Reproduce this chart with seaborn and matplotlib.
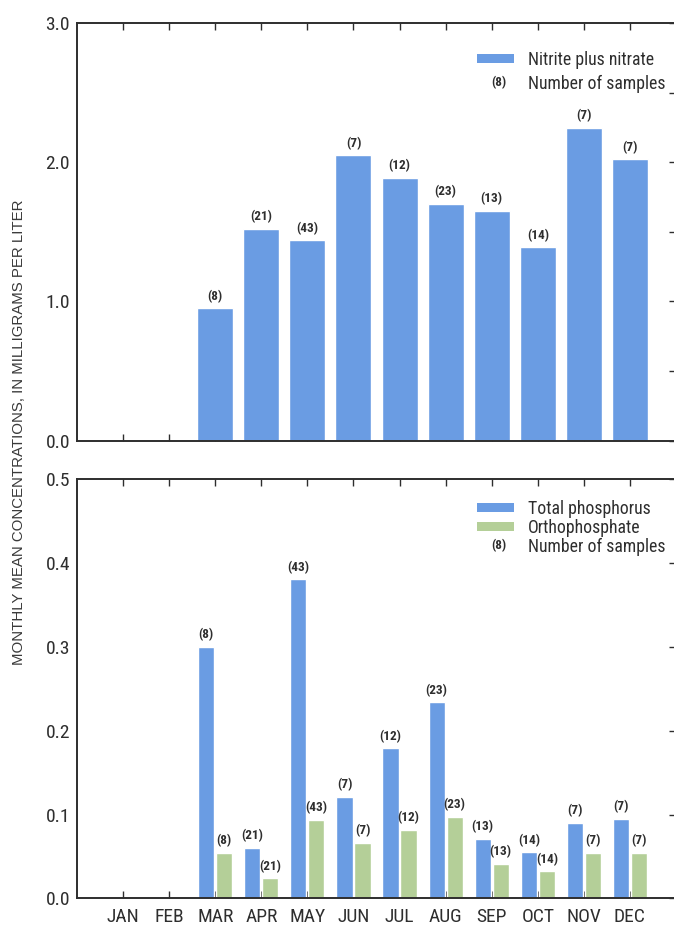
import matplotlib
matplotlib.use("Agg")
import matplotlib.pyplot as plt
import matplotlib.text as mtext
from matplotlib.patches import Patch
from matplotlib.legend_handler import HandlerBase
from matplotlib.ticker import MultipleLocator, FormatStrFormatter
import pandas as pd
import seaborn as sns

# Monthly mean concentrations (mg/L) and number of samples per month
months = ["JAN", "FEB", "MAR", "APR", "MAY", "JUN",
          "JUL", "AUG", "SEP", "OCT", "NOV", "DEC"]
sampled_months = ["MAR", "APR", "MAY", "JUN", "JUL",
                  "AUG", "SEP", "OCT", "NOV", "DEC"]
nitrite_nitrate = [0.95, 1.52, 1.44, 2.05, 1.89, 1.70, 1.65, 1.39, 2.245, 2.02]
total_phosphorus = [0.300, 0.060, 0.381, 0.121, 0.179, 0.234, 0.071, 0.055, 0.090, 0.095]
orthophosphate = [0.054, 0.024, 0.094, 0.066, 0.082, 0.097, 0.041, 0.032, 0.054, 0.054]
n_samples = [8, 21, 43, 7, 12, 23, 13, 14, 7, 7]

BLUE = "#6A9CE3"
GREEN = "#B4CF98"
INK = "#2E2E2E"
NARROW = ["Liberation Sans Narrow", "Roboto Condensed", "Open Sans Condensed",
          "Noto Sans", "DejaVu Sans"]

sns.set_theme(style="ticks")
plt.rcParams["font.family"] = NARROW
plt.rcParams["font.stretch"] = "condensed"
plt.rcParams["text.color"] = INK
plt.rcParams["axes.labelcolor"] = INK
plt.rcParams["xtick.color"] = INK
plt.rcParams["ytick.color"] = INK

fig = plt.figure(figsize=(6.74, 9.30), dpi=100)
W, H = 674.0, 930.0
ax_n = fig.add_axes([77 / W, 1 - 440.7 / H, 599 / W, 417.7 / H])
ax_p = fig.add_axes([77 / W, 1 - 898.3 / H, 599 / W, 418.8 / H])

nit_df = pd.DataFrame({"Month": sampled_months,
                       "Concentration": nitrite_nitrate})
sns.barplot(data=nit_df, x="Month", y="Concentration", order=months,
            color=BLUE, saturation=1, width=0.78, errorbar=None, ax=ax_n)

phos_df = pd.concat([
    pd.DataFrame({"Month": sampled_months, "Concentration": total_phosphorus,
                  "Constituent": "Total phosphorus"}),
    pd.DataFrame({"Month": sampled_months, "Concentration": orthophosphate,
                  "Constituent": "Orthophosphate"}),
])
sns.barplot(data=phos_df, x="Month", y="Concentration", hue="Constituent",
            hue_order=["Total phosphorus", "Orthophosphate"], order=months,
            palette=[BLUE, GREEN], saturation=1, width=0.78, gap=0.1,
            errorbar=None, legend=False, ax=ax_p)

count_by_month = dict(zip(sampled_months, n_samples))


def label_counts(ax):
    for container in ax.containers:
        for bar in container:
            h = bar.get_height()
            if not h == h:
                continue
            xc = bar.get_x() + bar.get_width() / 2
            month = months[int(round(xc))]
            ax.annotate(f"({count_by_month[month]})", (xc, h),
                        xytext=(0, 4), textcoords="offset points",
                        ha="center", va="bottom", fontsize=9.5,
                        fontweight="bold", color=INK)


label_counts(ax_n)
label_counts(ax_p)


def style_axes(ax, ymax, major, minor, show_months):
    ax.set_xlim(-1, 12)
    ax.set_ylim(0, ymax)
    ax.set_xlabel("")
    ax.set_ylabel("")
    for side in ["left", "right", "top", "bottom"]:
        ax.spines[side].set_visible(True)
        ax.spines[side].set_linewidth(1.4)
        ax.spines[side].set_color(INK)
    ax.yaxis.set_major_locator(MultipleLocator(major))
    ax.yaxis.set_minor_locator(MultipleLocator(minor))
    ax.yaxis.set_major_formatter(FormatStrFormatter("%.1f"))
    ax.tick_params(axis="y", which="both", left=False, right=True,
                   labelleft=True, direction="in", length=5, width=1,
                   labelsize=14, pad=5)
    ax.tick_params(axis="x", which="major", top=True, bottom=True,
                   direction="in", length=5, width=1,
                   labelbottom=show_months, labelsize=14, pad=7)
    ax.grid(False)


style_axes(ax_n, 3.0, 1.0, 0.5, False)
style_axes(ax_p, 0.5, 0.1, 0.1, True)


class SampleKey:
    def __init__(self, text):
        self.text = text


class SampleKeyHandler(HandlerBase):
    def create_artists(self, legend, orig_handle, xdescent, ydescent,
                       width, height, fontsize, trans):
        t = mtext.Text(width / 2 - xdescent + 2, height / 2 - ydescent,
                       orig_handle.text, ha="center", va="center",
                       fontsize=9.5, fontweight="bold", color=INK,
                       family=NARROW, transform=trans)
        return [t]


leg_n = ax_n.legend(
    handles=[Patch(facecolor=BLUE, edgecolor="none"), SampleKey("(8)")],
    labels=["Nitrite plus nitrate", "Number of samples"],
    handler_map={SampleKey: SampleKeyHandler()},
    loc="upper left", bbox_to_anchor=(477 / W, 1 - 51 / H),
    bbox_transform=fig.transFigure, frameon=False, fontsize=12.8,
    handlelength=2.1, handleheight=0.4, handletextpad=0.75,
    labelspacing=0.35, borderpad=0, borderaxespad=0)

leg_p = ax_p.legend(
    handles=[Patch(facecolor=BLUE, edgecolor="none"),
             Patch(facecolor=GREEN, edgecolor="none"), SampleKey("(8)")],
    labels=["Total phosphorus", "Orthophosphate", "Number of samples"],
    handler_map={SampleKey: SampleKeyHandler()},
    loc="upper left", bbox_to_anchor=(477 / W, 1 - 500 / H),
    bbox_transform=fig.transFigure, frameon=False, fontsize=12.8,
    handlelength=2.1, handleheight=0.4, handletextpad=0.75,
    labelspacing=0.06, borderpad=0, borderaxespad=0)

fig.text(19 / W, 1 - 432 / H,
         "MONTHLY MEAN CONCENTRATIONS, IN MILLIGRAMS PER LITER",
         rotation=90, ha="center", va="center", fontsize=10.8,
         family=["Liberation Sans", "DejaVu Sans"], fontstretch="normal",
         color="#3A3A3A")

fig.savefig("out.png", dpi=100, facecolor="white")
